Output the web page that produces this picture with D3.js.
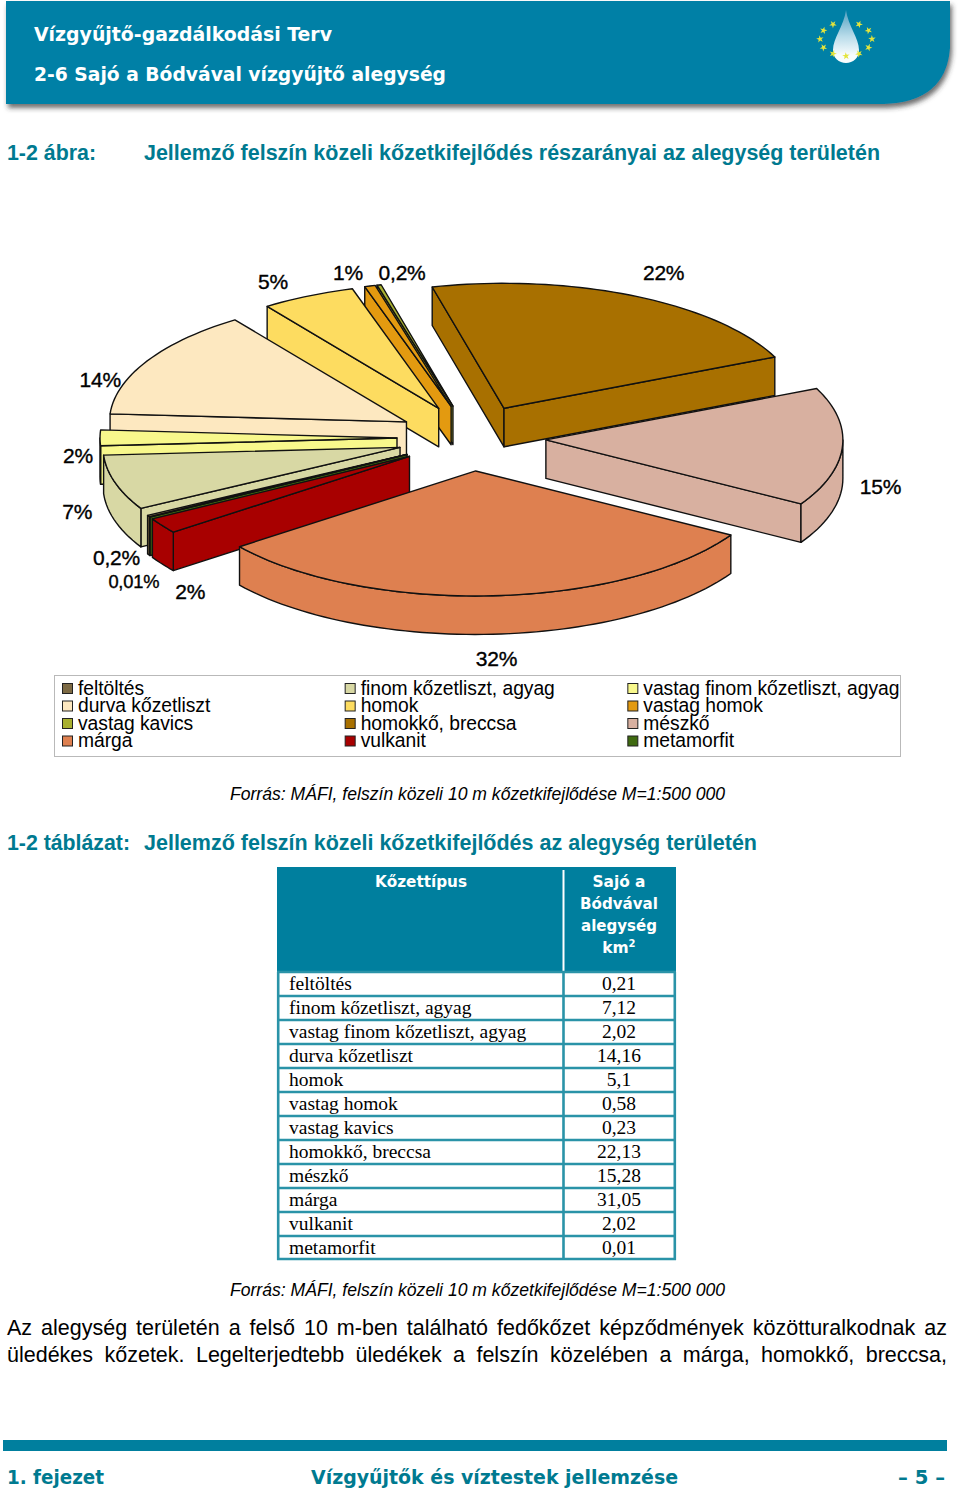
<!DOCTYPE html>
<html>
<head>
<meta charset="utf-8">
<script src="https://cdn.jsdelivr.net/npm/d3@7"></script>
<style>
  html, body { margin: 0; padding: 0; background: #fff; }
  svg { display: block; }
  text { fill: #000; }
</style>
</head>
<body>
<script>
const rockTypes = ["feltöltés", "finom kőzetliszt, agyag", "vastag finom kőzetliszt, agyag", "durva kőzetliszt", "homok", "vastag homok", "vastag kavics", "homokkő, breccsa", "mészkő", "márga", "vulkanit", "metamorfit"];
const areaKm2 = [0.21, 7.12, 2.02, 14.16, 5.1, 0.58, 0.23, 22.13, 15.28, 31.05, 2.02, 0.01];
const pctLabels = ["0,2%", "7%", "2%", "14%", "5%", "1%", "0,2%", "22%", "15%", "32%", "2%", "0,01%"];
const rockColors = ["#7d6a44", "#d8d8a4", "#f8f88c", "#fde8c0", "#fddc60", "#e39a10", "#a8b030", "#a87000", "#d8b0a0", "#de8050", "#a80000", "#3f6a10"];

const teal = "#007f9e";
const headerTeal = "#0080a6";
const titleTeal = "#007a90";
const sans = "'Liberation Sans', Arial, sans-serif";
const wide = "'DejaVu Sans', Verdana, sans-serif";
const serif = "'Liberation Serif', 'Times New Roman', serif";

const svg = d3.select("body").append("svg").attr("width", 960).attr("height", 1493);

// --- page header ---
const defs = svg.append("defs");
const shadow = defs.append("filter").attr("id", "shadow").attr("x", "-5%").attr("y", "-10%").attr("width", "110%").attr("height", "125%");
shadow.append("feDropShadow").attr("dx", 2).attr("dy", 4).attr("stdDeviation", 2.5).attr("flood-color", "#333").attr("flood-opacity", 0.7);
const dropFill = defs.append("linearGradient").attr("id", "drop").attr("x1", 0).attr("y1", 0).attr("x2", 0).attr("y2", 1);
dropFill.append("stop").attr("offset", "0%").attr("stop-color", "#4f9fc0");
dropFill.append("stop").attr("offset", "50%").attr("stop-color", "#b9dcea");
dropFill.append("stop").attr("offset", "85%").attr("stop-color", "#f8fcfd");

svg.append("path")
  .attr("d", "M6,1H950V48Q946,102 884,104H6Z")
  .attr("fill", headerTeal)
  .attr("filter", "url(#shadow)");

function label(text, x, y, size, family, opts = {}) {
  const t = svg.append("text").attr("x", x).attr("y", y)
    .attr("font-size", size).attr("font-family", family).text(text);
  if (opts.bold) t.attr("font-weight", "bold");
  if (opts.italic) t.attr("font-style", "italic");
  if (opts.fill) t.style("fill", opts.fill);
  if (opts.anchor) t.attr("text-anchor", opts.anchor);
  if (opts.width) t.attr("textLength", opts.width).attr("lengthAdjust", "spacingAndGlyphs");
  return t;
}

label("Vízgyűjtő-gazdálkodási Terv", 34, 41, 19, wide, {bold: true, fill: "#fff", width: 298});
label("2-6 Sajó a Bódvával vízgyűjtő alegység", 34, 81, 19, wide, {bold: true, fill: "#fff", width: 412});

// drop logo with a ring of stars
svg.append("path")
  .attr("d", "M846,10C848,26 859,38 859,50C859,58 853,63 846,63C839,63 833,58 833,50C833,38 844,26 846,10Z")
  .attr("fill", "url(#drop)");
const star = d3.symbol().type(d3.symbolStar).size(17);
const ringAngles = d3.range(12).filter(i => i !== 0);
svg.append("g").selectAll("path").data(ringAngles).join("path")
  .attr("d", star)
  .attr("fill", "#e3e43c")
  .attr("transform", i => {
    const a = i / 12 * 2 * Math.PI;
    return `translate(${846 + 26 * Math.sin(a)},${39 - 17 * Math.cos(a)}) rotate(${i * 23})`;
  });

label("1-2 ábra:", 7, 160, 22, sans, {bold: true, fill: titleTeal, width: 89});
label("Jellemző felszín közeli kőzetkifejlődés részarányai az alegység területén", 144, 160, 22, sans, {bold: true, fill: titleTeal, width: 736});

// --- exploded 3D pie ---
const cx = 471.5, cy = 438;   // pie centre
const rx = 297, ry = 125;     // top face ellipse
const blowX = 74.5, blowY = 33; // how far each slice is pulled out
const depth = 38.5;

const angle0 = 240 * Math.PI / 180;
const slices = d3.pie().sort(null).startAngle(angle0).endAngle(angle0 + 2 * Math.PI)(areaKm2)
  .map((s, i) => {
    const mid = (s.startAngle + s.endAngle) / 2;
    return {
      i, a0: s.startAngle, a1: s.endAngle, mid,
      ax: cx + blowX * Math.sin(mid),
      ay: cy - blowY * Math.cos(mid)
    };
  });

const rim = (s, a) => [s.ax + rx * Math.sin(a), s.ay - ry * Math.cos(a)];
const line = d3.line();

function arcPoints(s, from, to) {
  const n = Math.max(1, Math.ceil((to - from) / 0.03));
  return d3.range(n + 1).map(k => rim(s, from + (to - from) * k / n));
}

// the lower half of the ellipse, the angles run from 240 to 600 degrees
const frontRanges = [[Math.PI / 2, 3 * Math.PI / 2], [5 * Math.PI / 2, 7 * Math.PI / 2]];

// painted back to front, walls first and the top face last
const paintOrder = [6, 5, 4, 3, 7, 8, 2, 1, 0, 11, 10, 9];
const pieG = svg.append("g")
  .attr("stroke", "#111").attr("stroke-width", 1.4).attr("stroke-linejoin", "round");

paintOrder.map(i => slices[i]).forEach(s => {
  const g = pieG.append("g").attr("fill", rockColors[s.i]);
  const wall = pts => g.append("path")
    .attr("d", line(pts.concat(pts.slice().reverse().map(p => [p[0], p[1] + depth]))) + "Z");

  if (Math.sin(s.a0) < 0) wall([[s.ax, s.ay], rim(s, s.a0)]);
  if (Math.sin(s.a1) > 0) wall([[s.ax, s.ay], rim(s, s.a1)]);
  frontRanges.forEach(([lo, hi]) => {
    const from = Math.max(s.a0, lo), to = Math.min(s.a1, hi);
    if (to > from) wall(arcPoints(s, from, to));
  });

  g.append("path")
    .attr("d", line([[s.ax, s.ay]].concat(arcPoints(s, s.a0, s.a1))) + "Z");
});

// percent labels: start from the outer ellipse, then nudged to where the chart has them
const labelNudge = [[-32, 42], [-38, 29], [-22, 18], [-47, 19], [-35, -14], [-22, -13], [23, -12], [30, -23], [38, 40], [4, 63], [28, 66], [-16, 64]];
svg.append("g").selectAll("text").data(slices).join("text")
  .attr("x", s => cx + (rx + blowX) * Math.sin(s.mid) + labelNudge[s.i][0])
  .attr("y", s => cy - (ry + blowY) * Math.cos(s.mid) + labelNudge[s.i][1] + 7)
  .attr("text-anchor", "middle")
  .attr("font-family", sans)
  .attr("font-size", s => s.i === 11 ? 18.3 : 21)
  .attr("letter-spacing", -0.2)
  .attr("stroke", "#000").attr("stroke-width", 0.35)
  .text(s => pctLabels[s.i]);

// --- legend ---
svg.append("rect").attr("x", 54.5).attr("y", 675.5).attr("width", 846).attr("height", 81)
  .attr("fill", "#fff").attr("stroke", "#b9b9b9").attr("stroke-width", 1);
const legendX = d3.scaleBand().domain(d3.range(3)).range([61, 909]);
const legendY = d3.scaleBand().domain(d3.range(4)).range([679, 749]);
const legend = svg.append("g").selectAll("g").data(rockTypes).join("g")
  .attr("transform", (d, i) => `translate(${legendX(i % 3)},${legendY(Math.floor(i / 3))})`);
legend.append("rect").attr("x", 1.5).attr("y", 4.5).attr("width", 10).attr("height", 10)
  .attr("fill", (d, i) => rockColors[i]).attr("stroke", "#222").attr("stroke-width", 1);
legend.append("text").attr("x", 17).attr("y", 15.6)
  .attr("font-family", sans).attr("font-size", 19.3).attr("letter-spacing", -0.04)
  .text(d => d);

const sourceText = "Forrás: MÁFI, felszín közeli 10 m kőzetkifejlődése M=1:500 000";
label(sourceText, 230, 800, 18, sans, {italic: true, width: 495});

label("1-2 táblázat:", 7, 850, 22, sans, {bold: true, fill: titleTeal, width: 123});
label("Jellemző felszín közeli kőzetkifejlődés az alegység területén", 144, 850, 22, sans, {bold: true, fill: titleTeal, width: 613});

// --- table ---
const tableX0 = 277, tableX1 = 676, splitX = 563.5;
const headerTop = 867, headerBottom = 972, tableBottom = 1260;
const rowY = d3.scaleBand().domain(d3.range(rockTypes.length)).range([headerBottom, tableBottom]);

svg.append("rect").attr("x", tableX0).attr("y", headerTop)
  .attr("width", tableX1 - tableX0).attr("height", headerBottom - headerTop).attr("fill", teal);
svg.append("line").attr("x1", splitX).attr("x2", splitX).attr("y1", headerTop + 3).attr("y2", headerBottom - 1)
  .attr("stroke", "#fff").attr("stroke-width", 2);

const grid = svg.append("g").attr("stroke", "#2a93a8").attr("stroke-width", 2.6);
grid.selectAll("line.row").data(d3.range(rockTypes.length + 1)).join("line")
  .attr("class", "row")
  .attr("x1", tableX0).attr("x2", tableX1)
  .attr("y1", i => i < rockTypes.length ? rowY(i) : tableBottom - 1)
  .attr("y2", i => i < rockTypes.length ? rowY(i) : tableBottom - 1);
[tableX0 + 1.2, splitX, tableX1 - 1.2].forEach(x => {
  grid.append("line").attr("x1", x).attr("x2", x).attr("y1", headerBottom).attr("y2", tableBottom);
});

label("Kőzettípus", 421, 887, 15.5, wide, {bold: true, fill: "#fff", anchor: "middle", width: 92});
const headLines = ["Sajó a", "Bódvával", "alegység"];
const headWidths = [53, 78, 76];
headLines.forEach((t, i) => {
  label(t, 619, 887 + i * 22, 15.5, wide, {bold: true, fill: "#fff", anchor: "middle", width: headWidths[i]});
});
label("km", 615.5, 953, 15.5, wide, {bold: true, fill: "#fff", anchor: "middle"});
label("2", 632, 947, 10, wide, {bold: true, fill: "#fff", anchor: "middle"});

const rows = svg.append("g").selectAll("g").data(rockTypes).join("g")
  .attr("transform", (d, i) => `translate(0,${rowY(i)})`);
rows.append("text").attr("x", 289).attr("y", rowY.bandwidth() / 2 + 6.2)
  .attr("font-family", serif).attr("font-size", 19.5).text(d => d);
rows.append("text").attr("x", 619).attr("y", rowY.bandwidth() / 2 + 6.2)
  .attr("text-anchor", "middle").attr("font-family", serif).attr("font-size", 19.5)
  .text((d, i) => String(areaKm2[i]).replace(".", ","));

label(sourceText, 230, 1296, 18, sans, {italic: true, width: 495});

// --- body text, stretched between the margins with word spacing ---
const bodyLines = [
  "Az alegység területén a felső 10 m-ben található fedőkőzet képződmények közötturalkodnak az",
  "üledékes kőzetek. Legelterjedtebb üledékek a felszín közelében a márga, homokkő, breccsa,"
];
bodyLines.forEach((t, i) => {
  const el = label(t, 7, 1335 + i * 27, 21.5, sans);
  const free = 940 - el.node().getComputedTextLength();
  el.attr("word-spacing", free / (t.split(" ").length - 1));
});

// --- page footer ---
svg.append("rect").attr("x", 3).attr("y", 1440).attr("width", 944).attr("height", 11).attr("fill", teal);
label("1. fejezet", 7, 1484, 20, wide, {bold: true, fill: titleTeal, width: 97});
label("Vízgyűjtők és víztestek jellemzése", 311, 1484, 20, wide, {bold: true, fill: titleTeal, width: 367});
label("– 5 –", 898, 1484, 20, wide, {bold: true, fill: titleTeal, width: 47});
</script>
</body>
</html>
